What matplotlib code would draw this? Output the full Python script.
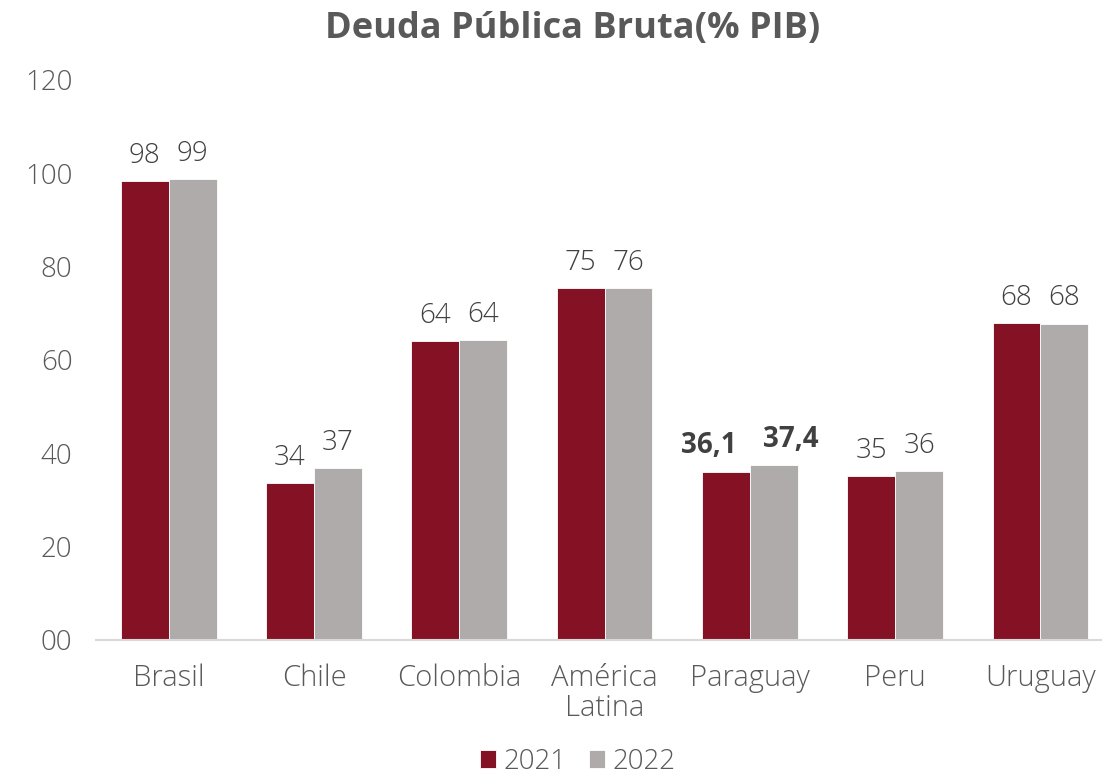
import matplotlib
matplotlib.use("Agg")
import matplotlib.pyplot as plt
import numpy as np

categories = ["Brasil", "Chile", "Colombia", "América\nLatina", "Paraguay", "Peru", "Uruguay"]
values_2021 = [98.4, 33.6, 64.1, 75.4, 36.1, 35.2, 67.9]
values_2022 = [98.8, 36.9, 64.3, 75.5, 37.4, 36.2, 67.8]
labels_2021 = ["98", "34", "64", "75", "36,1", "35", "68"]
labels_2022 = ["99", "37", "64", "76", "37,4", "36", "68"]
bold_labels = [False, False, False, False, True, False, False]
yticks = [0, 20, 40, 60, 80, 100, 120]
ytick_labels = ["00", "20", "40", "60", "80", "100", "120"]

plt.rcParams['font.family'] = ['Open Sans', 'DejaVu Sans']

c21 = "#841224"
c22 = "#AFABAB"
txt = "#404040"
tick_c = "#595959"

fig = plt.figure(figsize=(11.02, 7.74), dpi=100)
ax = fig.add_axes([96/1102, 1 - 640/774, 1 - 96/1102, (640 - 80)/774])

x = np.arange(len(categories))
w = 0.33
b1 = ax.bar(x - w/2, values_2021, w, color=c21, label="2021", edgecolor="white", linewidth=0.6)
b2 = ax.bar(x + w/2, values_2022, w, color=c22, label="2022", edgecolor="white", linewidth=0.6)

for i in range(len(categories)):
    bold = bold_labels[i]
    fw = "bold" if bold else "light"
    dx = 12 if bold else 0
    ax.annotate(labels_2021[i], (x[i] - w/2, values_2021[i]), xytext=(-dx, 8), textcoords="offset points",
                ha="center", va="bottom", fontsize=20, color=txt, fontweight=fw)
    ax.annotate(labels_2022[i], (x[i] + w/2, values_2022[i]), xytext=(dx, 8), textcoords="offset points",
                ha="center", va="bottom", fontsize=20, color=txt, fontweight=fw)

ax.set_xlim(-0.5, -0.5 + (1102 - 96) / 145.3)
ax.set_ylim(0, 120)
ax.set_yticks(yticks)
ax.set_yticklabels(ytick_labels, fontsize=20, color=tick_c, fontweight="light")
ax.set_xticks(x)
ax.set_xticklabels(categories, fontsize=21, color=tick_c, linespacing=1.0, fontweight="light")
ax.tick_params(axis="both", length=0)
ax.tick_params(axis="y", pad=17)
ax.tick_params(axis="x", pad=17)
for s in ["top", "right", "left"]:
    ax.spines[s].set_visible(False)
ax.spines["bottom"].set_color("#D9D9D9")
ax.spines["bottom"].set_linewidth(1.5)

fig.text(0.52, 1 - 29/774, "Deuda Pública Bruta(% PIB)", ha="center", va="center",
         fontsize=26, fontweight="bold", color=tick_c)

leg = fig.legend(handles=[b1, b2], labels=["2021", "2022"], loc="center", bbox_to_anchor=(0.524, 1 - 762/774),
                 ncol=2, frameon=False, fontsize=20, handlelength=0.6, handleheight=0.6,
                 handletextpad=0.25, columnspacing=0.8, labelcolor=tick_c)
for t in leg.get_texts():
    t.set_fontweight("light")

fig.savefig("out.png", dpi=100)
